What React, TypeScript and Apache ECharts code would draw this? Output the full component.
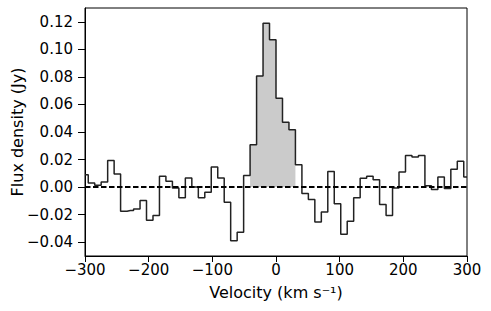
import React, { useEffect, useRef } from "react";
import * as echarts from "echarts";

// Channel centre velocities (km/s)
const velocity: number[] = [
  -300.0, -289.8, -279.7, -269.5, -259.3, -249.2, -239.0, -228.8, -218.6, -208.5,
  -198.3, -188.1, -178.0, -167.8, -157.6, -147.5, -137.3, -127.1, -116.9, -106.8,
  -96.6, -86.4, -76.3, -66.1, -55.9, -45.8, -35.6, -25.4, -15.3, -5.1,
  5.1, 15.3, 25.4, 35.6, 45.8, 55.9, 66.1, 76.3, 86.4, 96.6,
  106.8, 116.9, 127.1, 137.3, 147.5, 157.6, 167.8, 178.0, 188.1, 198.3,
  208.5, 218.6, 228.8, 239.0, 249.2, 259.3, 269.5, 279.7, 289.8, 300.0,
];

// Flux density per channel (Jy)
const flux: number[] = [
  0.009, 0.003, 0.0013, 0.0037, 0.0194, 0.0095, -0.0175, -0.017, -0.0158, -0.0098,
  -0.024, -0.0206, 0.0078, 0.0042, -0.0006, -0.0078, 0.0066, 0.0, -0.0078, -0.0038,
  0.0146, 0.0066, -0.011, -0.039, -0.0327, 0.0085, 0.0307, 0.0806, 0.119, 0.107,
  0.0645, 0.047, 0.0416, 0.0163, -0.0047, -0.009, -0.0254, -0.018, 0.0114, -0.012,
  -0.0343, -0.0247, -0.0078, 0.0064, 0.0078, 0.0054, -0.0127, -0.0206, -0.0006, 0.011,
  0.023, 0.0218, 0.023, 0.001, -0.0018, 0.0074, -0.001, 0.013, 0.0187, 0.0074,
];

// Channels of the shaded line region
const shadeFirst = 26;
const shadeLast = 32;

const xTicks: number[] = [-300, -200, -100, 0, 100, 200, 300];
const yTicks: number[] = [-0.04, -0.02, 0.0, 0.02, 0.04, 0.06, 0.08, 0.1, 0.12];

const fmt = (v: number, d: number) => v.toFixed(d).replace("-", "\u2212");

export default function App() {
  const ref = useRef<HTMLDivElement>(null);

  useEffect(() => {
    if (!ref.current) return;
    const chart = echarts.init(ref.current, undefined, { renderer: "svg" });

    const lineData = velocity.map((v, i) => [v, flux[i]]);
    const shadeData: number[][] = [];
    for (let j = shadeFirst - 1; j <= shadeLast + 1; j++) {
      const inside = j >= shadeFirst && j <= shadeLast;
      shadeData.push([velocity[j], inside ? flux[j] : 0]);
    }

    const font = "DejaVu Sans";

    chart.setOption({
      animation: false,
      backgroundColor: "#ffffff",
      grid: {
        left: 85,
        right: 24,
        top: 8,
        bottom: 55,
        containLabel: false,
        outerBoundsMode: "none",
        show: true,
        borderColor: "#000",
        borderWidth: 1,
        backgroundColor: "transparent",
      },
      xAxis: {
        type: "value",
        min: -300,
        max: 300,
        interval: 100,
        name: "Velocity (km s\u207B\u00B9)",
        nameLocation: "middle",
        nameGap: 28,
        nameMoveOverlap: false,
        nameTextStyle: { fontFamily: font, fontSize: 16, color: "#000" },
        axisLine: { show: true, onZero: false, lineStyle: { color: "#000", width: 1 } },
        axisTick: { show: true, length: 6, customValues: xTicks, lineStyle: { color: "#000", width: 1 } },
        axisLabel: {
          customValues: xTicks,
          margin: 6,
          fontFamily: font,
          fontSize: 15,
          color: "#000",
          formatter: (v: number) => fmt(v, 0),
        },
        splitLine: { show: false },
      },
      yAxis: {
        type: "value",
        min: -0.05,
        max: 0.13,
        name: "Flux density (Jy)",
        nameLocation: "middle",
        nameGap: 60,
        nameMoveOverlap: false,
        nameTextStyle: { fontFamily: font, fontSize: 16, color: "#000" },
        axisLine: { show: true, onZero: false, lineStyle: { color: "#000", width: 1 } },
        axisTick: { show: true, length: 7, customValues: yTicks, lineStyle: { color: "#000", width: 1 } },
        axisLabel: {
          customValues: yTicks,
          margin: 12,
          fontFamily: font,
          fontSize: 15,
          color: "#000",
          formatter: (v: number) => fmt(v, 2),
        },
        splitLine: { show: false },
      },
      series: [
        {
          type: "line",
          step: "middle",
          data: shadeData,
          symbol: "none",
          lineStyle: { width: 0, opacity: 0 },
          areaStyle: { color: "#cbcbcb", opacity: 1 },
          silent: true,
          z: 1,
        },
        {
          type: "line",
          step: "middle",
          data: lineData,
          symbol: "none",
          lineStyle: { color: "#222", width: 1.5 },
          silent: true,
          z: 3,
          markLine: {
            silent: true,
            symbol: "none",
            label: { show: false },
            lineStyle: { color: "#000", width: 1.9, type: [5.5, 2.5] },
            data: [{ yAxis: 0 }],
          },
        },
      ],
    });

    return () => chart.dispose();
  }, []);

  return (
    <div
      ref={ref}
      style={{ position: "fixed", left: 0, top: 0, width: 491, height: 311, background: "#fff" }}
    />
  );
}
